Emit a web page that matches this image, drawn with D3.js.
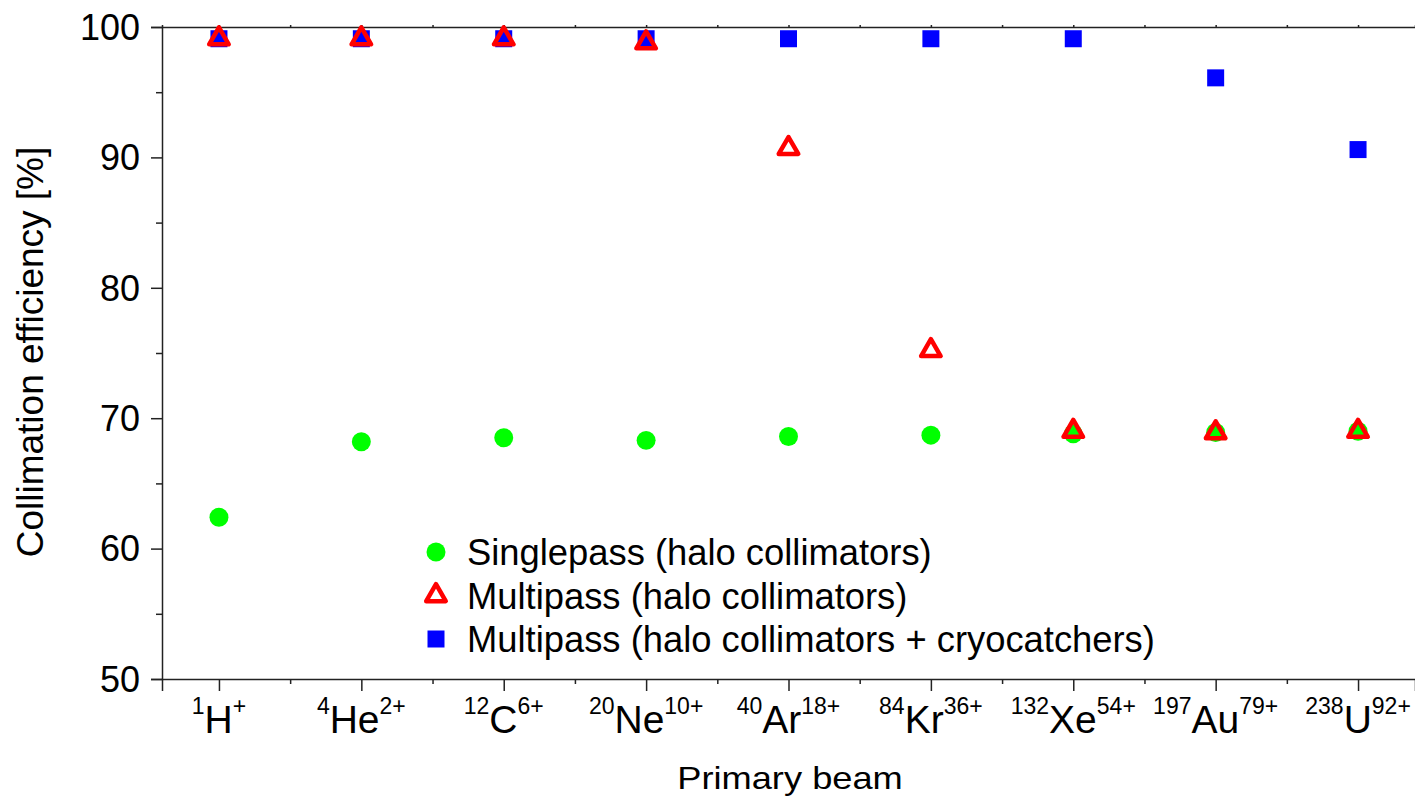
<!DOCTYPE html>
<html>
<head>
<meta charset="utf-8">
<script src="https://cdn.jsdelivr.net/npm/d3@7"></script>
<style>
  body { margin: 0; background: #fff; }
  text { font-family: "Liberation Sans", Arial, Helvetica, sans-serif; fill: #000; }
</style>
</head>
<body>
<div id="chart-area"></div>
<script>
// beams
var massNums = ["1", "4", "12", "20", "40", "84", "132", "197", "238"];
var elements = ["H", "He", "C", "Ne", "Ar", "Kr", "Xe", "Au", "U"];
var charges  = ["+", "2+", "6+", "10+", "18+", "36+", "54+", "79+", "92+"];

// collimation efficiency in %
var singlepass = [62.4, 68.2, 68.5, 68.3, 68.6, 68.7, 68.8, 68.9, 69.0];
var multipass  = [99.1, 99.1, 99.1, 98.8, 90.7, 75.2, 69.0, 68.9, 69.0];
var multiCryo  = [99.1, 99.1, 99.1, 99.1, 99.1, 99.1, 99.1, 96.1, 90.6];

var yTicks = [50, 60, 70, 80, 90, 100];
var legendNames = ["Singlepass (halo collimators)",
                   "Multipass (halo collimators)",
                   "Multipass (halo collimators + cryocatchers)"];

//Margins
var margin = { left:162, right:0, top:27, bottom:123 },
    width = 1415 - margin.left - margin.right,
    height = 802 - margin.top - margin.bottom;

var svg = d3.select("#chart-area").append("svg")
    .attr("width", width + margin.left + margin.right)
    .attr("height", height + margin.top + margin.bottom);
var g = svg.append("g")
    .attr("transform", "translate(" + margin.left + "," + margin.top + ")");

//scales
var x = d3.scaleLinear().domain([0.6, 9.4]).range([0, width]);
var y = d3.scaleLinear().domain([50, 100]).range([height, 0]);

var idx = d3.range(1, elements.length + 1);
var halfIdx = d3.range(1.5, elements.length, 1);

//Y axis major + minor
var yAxis = g.append("g").attr("class", "y axis")
    .call(d3.axisLeft(y).tickValues(yTicks).tickSize(11).tickPadding(11));
g.append("g").attr("class", "y minor")
    .call(d3.axisLeft(y).tickValues(d3.range(55, 100, 10)).tickSize(6).tickFormat(""));

//X axis major + minor
g.append("g").attr("class", "x axis")
    .attr("transform", "translate(0," + height + ")")
    .call(d3.axisBottom(x).tickValues(idx).tickSize(12).tickFormat(""));
g.append("g").attr("class", "x minor")
    .attr("transform", "translate(0," + height + ")")
    .call(d3.axisBottom(x).tickValues(halfIdx).tickSize(5).tickFormat(""));

//top frame line
g.append("g").attr("class", "x top")
    .call(d3.axisTop(x).tickValues(idx.concat(halfIdx)).tickSize(2).tickFormat(""));

g.selectAll(".domain").attr("stroke", "#222").attr("stroke-width", 1.5);
g.selectAll(".tick line").attr("stroke", "#222").attr("stroke-width", 1.5);
g.select(".y.minor .domain").remove();
g.select(".x.minor .domain").remove();
yAxis.selectAll("text").attr("font-size", "36px").attr("dy", "0.34em")
    .attr("font-family", "Liberation Sans, Arial, sans-serif");

// x tick labels with superscripts
var xLab = g.append("g").attr("class", "x labels");
idx.forEach(function(v, i){
    var t = xLab.append("text")
        .attr("x", x(v))
        .attr("y", height + 54)
        .attr("text-anchor", "middle")
        .attr("font-size", "39px");
    t.append("tspan").attr("font-size", "23px").attr("dy", -19).text(massNums[i]);
    t.append("tspan").attr("dy", 19).text(elements[i]);
    t.append("tspan").attr("font-size", "23px").attr("dy", -19).text(charges[i]);
});

//Axis labels
svg.append("text")
    .attr("transform", "translate(790,789) scale(1.17,1)")
    .attr("font-size", "31px")
    .attr("text-anchor", "middle")
    .text("Primary beam");
g.append("text")
    .attr("transform", "rotate(-90)")
    .attr("x", -(352 - margin.top))
    .attr("y", 43 - margin.left)
    .attr("font-size", "37px")
    .attr("text-anchor", "middle")
    .text("Collimation efficiency [%]");

// markers
var circleSym = d3.symbol(d3.symbolCircle, 283);
var squareSym = d3.symbol(d3.symbolSquare, 289);
var triSym = d3.symbol(d3.symbolTriangle, 165);

g.selectAll(".single").data(singlepass).enter().append("path")
    .attr("class", "single")
    .attr("d", circleSym)
    .attr("transform", function(d, i){ return "translate(" + x(i + 1) + "," + y(d) + ")"; })
    .attr("fill", "#00ff00");

g.selectAll(".cryo").data(multiCryo).enter().append("path")
    .attr("class", "cryo")
    .attr("d", squareSym)
    .attr("transform", function(d, i){ return "translate(" + x(i + 1) + "," + y(d) + ")"; })
    .attr("fill", "#0000ff");

g.selectAll(".multi").data(multipass).enter().append("path")
    .attr("class", "multi")
    .attr("d", triSym)
    .attr("transform", function(d, i){ return "translate(" + x(i + 1) + "," + y(d) + ")"; })
    .attr("fill", "none")
    .attr("stroke", "#ff0000")
    .attr("stroke-width", 4.5)
    .attr("stroke-linejoin", "round");

// legend
var legend = svg.append("g").attr("transform", "translate(436,552)");
var syms = [circleSym, triSym, squareSym];
var fills = ["#00ff00", "none", "#0000ff"];
var strokes = ["none", "#ff0000", "none"];
legendNames.forEach(function(name, i){
    var row = legend.append("g").attr("transform", "translate(0," + (i * 43.5) + ")");
    row.append("path").attr("d", syms[i])
        .attr("fill", fills[i])
        .attr("stroke", strokes[i])
        .attr("stroke-width", 4.5)
        .attr("stroke-linejoin", "round");
    row.append("text")
        .attr("transform", "translate(31,13) scale(1.01,1)")
        .attr("font-size", "36px")
        .text(name);
});
</script>
</body>
</html>
